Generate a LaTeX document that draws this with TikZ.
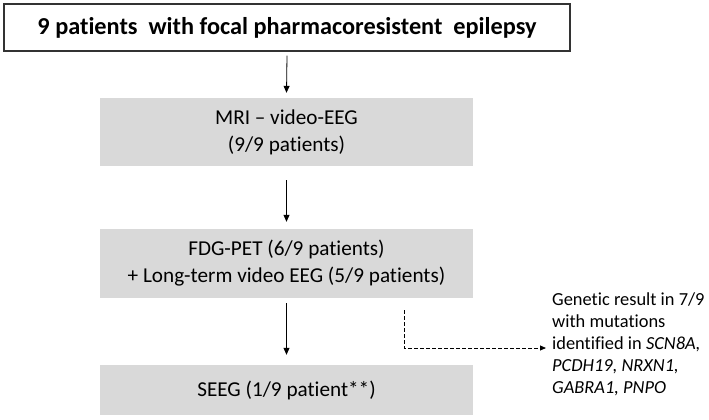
\documentclass[tikz,border=0pt]{standalone}
\usepackage{fontspec}
\setmainfont{Carlito}[Ligatures=NoCommon]
\usetikzlibrary{arrows.meta}
\definecolor{boxgray}{HTML}{D9D9D9}
\begin{document}
\begin{tikzpicture}[x=1pt,y=-1pt,
  graybox/.style={fill=boxgray, draw=none, minimum width=373pt, align=center, inner sep=0pt, font=\fontsize{21.2}{27}\selectfont},
  flow/.style={-{Triangle[length=7pt,width=6pt]}, line width=0.8pt},
  dflow/.style={-{Triangle[length=6pt,width=5pt]}, line width=0.8pt, dash pattern=on 3.5pt off 2.5pt}]
\useasboundingbox (0,0) rectangle (709,420);
\node[draw=black!80, line width=1.2pt, minimum width=566pt, minimum height=47pt, inner sep=0pt,
      font=\bfseries\fontsize{24.3}{28}\selectfont] (top) at (287,27.5)
      {9 patients\ \ with focal pharmacoresistent\ \ epilepsy};
\node[graybox, minimum height=68pt] (mri) at (286.5,132) {MRI -- video-EEG\\(9/9 patients)};
\node[graybox, minimum height=69pt] (pet) at (286.5,263.5) {FDG-PET (6/9 patients)\\+ Long-term video EEG (5/9 patients)};
\node[graybox, minimum height=50pt] (seeg) at (286.5,390) {SEEG (1/9 patient**)};
\node[anchor=west, align=left, inner sep=0pt, font=\fontsize{18.4}{22}\selectfont] (gen) at (552,344)
  {Genetic result in 7/9\\with mutations\\identified in \textit{SCN8A,}\\\textit{PCDH19, NRXN1,}\\\textit{GABRA1, PNPO}};
\draw[flow] ([yshift=-4pt]top.south) -- ([yshift=5pt]mri.north);
\draw[flow] ([yshift=-14pt]mri.south) -- ([yshift=7pt]pet.north);
\draw[flow] ([yshift=-5pt]pet.south) -- ([yshift=10pt]seeg.north);
\coordinate (dstart) at (404,310);
\coordinate (dend) at (546,348);
\draw[dflow] (dstart) |- (dend);
\end{tikzpicture}
\end{document}
